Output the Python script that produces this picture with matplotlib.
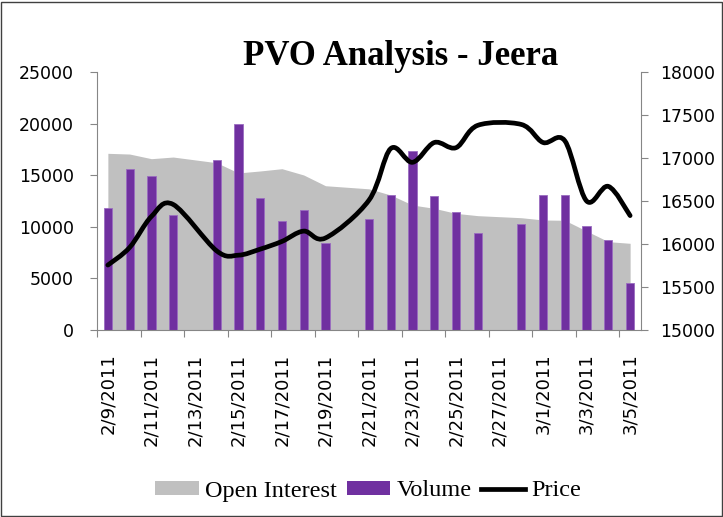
import matplotlib
matplotlib.use('Agg')
import matplotlib.pyplot as plt
import numpy as np
import pandas as pd
from matplotlib.path import Path
from matplotlib.patches import PathPatch, Rectangle, Patch
from matplotlib.lines import Line2D

# ---------------- data ----------------
dates = ['2011-02-09', '2011-02-10', '2011-02-11', '2011-02-12', '2011-02-14',
         '2011-02-15', '2011-02-16', '2011-02-17', '2011-02-18', '2011-02-19',
         '2011-02-21', '2011-02-22', '2011-02-23', '2011-02-24', '2011-02-25',
         '2011-02-26', '2011-02-28', '2011-03-01', '2011-03-02', '2011-03-03',
         '2011-03-04', '2011-03-05']
open_interest = [17120, 17050, 16600, 16760, 16210, 15220, 15410, 15630, 15020, 13980,
                 13680, 13080, 12110, 11790, 11300, 11080, 10880, 10660, 10630, 9590,
                 8560, 8400]
volume = [11800, 15600, 14950, 11100, 16450, 20000, 12800, 10550, 11600, 8450,
          10750, 13100, 17350, 12950, 11450, 9400, 10300, 13100, 13100, 10100,
          8700, 4550]
price = [15755, 15960, 16320, 16460, 15920, 15870, 15940, 16030, 16150, 16070,
         16510, 17110, 16950, 17180, 17120, 17380, 17390, 17180, 17200, 16500,
         16670, 16330]
axis_start = '2011-02-09'
axis_end = '2011-03-06'
tick_labels = ['2/9/2011', '2/11/2011', '2/13/2011', '2/15/2011', '2/17/2011',
               '2/19/2011', '2/21/2011', '2/23/2011', '2/25/2011', '2/27/2011',
               '3/1/2011', '3/3/2011', '3/5/2011']
left_ticks = [0, 5000, 10000, 15000, 20000, 25000]
right_ticks = [15000, 15500, 16000, 16500, 17000, 17500, 18000]

# ---------------- figure ----------------
plt.rcParams['font.family'] = ['DejaVu Sans']
W, H = 723, 517
fig = plt.figure(figsize=(W / 100, H / 100), dpi=100)
L, R, T, B = 97, 641, 72, 330
ax = fig.add_axes([L / W, 1 - B / H, (R - L) / W, (B - T) / H])

start = pd.Timestamp(axis_start)
x = (pd.to_datetime(dates) - start).days.values + 0.5
xmax = (pd.Timestamp(axis_end) - start).days

ax.fill_between(x, 0, open_interest, color='#C0C0C0', lw=0, zorder=1)
ax.bar(x, volume, width=0.38, color='#7030A0', edgecolor='#9a6cc0', linewidth=0.6, zorder=2)
ax.set_xlim(0, xmax)
ax.set_ylim(left_ticks[0], left_ticks[-1])
ax.set_yticks(left_ticks)

ax2 = ax.twinx()
ax2.set_ylim(right_ticks[0], right_ticks[-1])
ax2.set_yticks(right_ticks)

# Excel-style smoothed line (Catmull-Rom as cubic Bezier)
px = np.asarray(x, float)
py = np.asarray(price, float)
n = len(px)
verts = [(px[0], py[0])]
codes = [Path.MOVETO]
for i in range(n - 1):
    i0 = max(i - 1, 0)
    i3 = min(i + 2, n - 1)
    c1 = (px[i] + (px[i + 1] - px[i0]) / 6, py[i] + (py[i + 1] - py[i0]) / 6)
    c2 = (px[i + 1] - (px[i3] - px[i]) / 6, py[i + 1] - (py[i3] - py[i]) / 6)
    verts += [c1, c2, (px[i + 1], py[i + 1])]
    codes += [Path.CURVE4] * 3
ax2.add_patch(PathPatch(Path(verts, codes), fill=False, edgecolor='black',
                        lw=3.4, capstyle='round', joinstyle='round', zorder=3))

# axes styling
spc = '#868686'
for a in (ax, ax2):
    a.spines['top'].set_visible(False)
    for s in ('left', 'right', 'bottom'):
        a.spines[s].set_color(spc)
ax.spines['right'].set_visible(False)
ax2.spines['left'].set_visible(False)
ax2.spines['bottom'].set_visible(False)

ax.set_xticks(np.arange(0, xmax, 2))
ax.set_xticklabels([])
lab_pos = (pd.to_datetime(tick_labels, format='%m/%d/%Y') - start).days.values + 0.5
ax.set_xticks(lab_pos, minor=True)
ax.set_xticklabels(tick_labels, minor=True, rotation=90, fontsize=13)
ax.tick_params(axis='x', which='major', direction='out', length=5, color=spc)
ax.tick_params(axis='x', which='minor', length=0, pad=17)
ax.tick_params(axis='y', direction='out', length=5, color=spc, labelsize=12.5, pad=11.5)
ax2.tick_params(axis='y', direction='out', length=5, color=spc, labelsize=12.5, pad=9)

fig.text(401 / W, 1 - 65 / H, 'PVO Analysis - Jeera', ha='center', va='baseline',
         fontsize=25, fontweight='bold', family='Liberation Serif')

handles = [Patch(facecolor='#C0C0C0', edgecolor='none'),
           Patch(facecolor='#7030A0', edgecolor='none'),
           Line2D([], [], color='black', lw=3.4)]
fig.legend(handles, ['Open Interest', 'Volume', 'Price'], loc='center',
           bbox_to_anchor=(368 / W, 1 - 491 / H), ncol=3, frameon=False,
           prop={'family': 'Liberation Serif', 'size': 17.5}, handlelength=1.8,
           handleheight=0.55, handletextpad=0.25, columnspacing=0.4)

fig.add_artist(Rectangle((0.002, 0.002), 0.996, 0.995, transform=fig.transFigure,
                         fill=False, edgecolor='#404040', lw=1))

fig.savefig('out.png', dpi=100)
